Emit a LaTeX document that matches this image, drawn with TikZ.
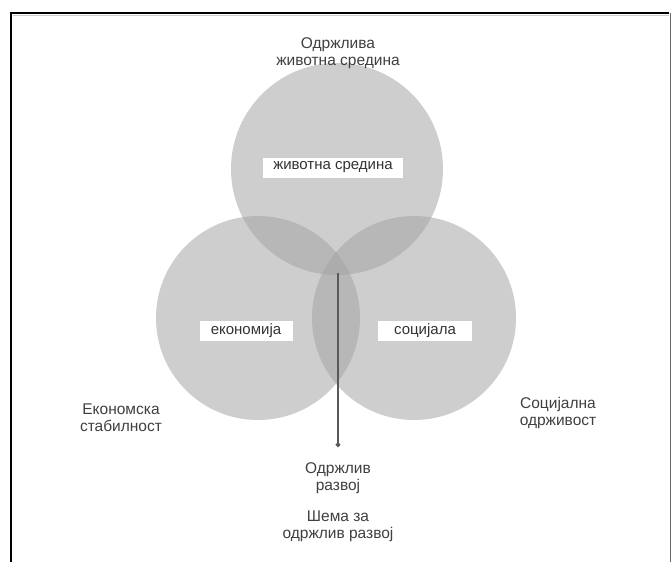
\documentclass[tikz,border=0pt]{standalone}
\usepackage{fontspec}
\setmainfont{Liberation Sans}
\usetikzlibrary{arrows.meta}
\begin{document}
\begin{tikzpicture}[x=1pt,y=-1pt,
  circ/.style={circle,fill=black!36,fill opacity=0.53,draw=none,inner sep=0pt},
  tag/.style={fill=white,inner sep=0pt,minimum height=20pt,text=black!80,font=\fontsize{15}{17}\selectfont},
  outer/.style={align=center,text=black!75,font=\fontsize{15.5}{17}\selectfont,inner sep=0pt},
  frameline/.style={line width=2.5pt,black}]
\useasboundingbox (0,0) rectangle (671,562);
\fill[white] (0,0) rectangle (671,562);
% frame
\draw[frameline] (11,562) -- (11,13) -- (669,13);
\draw[black!20,line width=0.8pt] (12.5,15.2) -- (669,15.2);
\draw[black!60,line width=1pt] (670,13) -- (670,562);
% circles
\node[circ,minimum size=212pt] (env) at (337,169) {};
\node[circ,minimum size=204pt] (eco) at (258,318) {};
\node[circ,minimum size=204pt] (soc) at (414,318) {};
% inner labels
\node[tag,minimum width=140pt] (envl) at (333,167.5) {животна средина};
\node[tag,minimum width=93pt] (ecol) at (246,331) {економија};
\node[tag,minimum width=94pt] (socl) at (425,331) {социјала};
% outer labels
\node[outer] (envo) at (338,53) {Одржлива\\животна средина};
\node[outer] (ecoo) at (121,418) {Економска\\стабилност};
\node[outer] (soco) at (558,413) {Социјална\\одрживост};
\node[outer] (dev) at (338,478) {Одржлив\\развој};
\node[outer] (cap) at (338,526) {Шема за\\одржлив развој};
% connector
\coordinate (c) at (338,273);
\coordinate (d) at (338,447);
\draw[black!65,line width=1.3pt,-{Circle[length=4.5pt]}] (c) -- (d);
\end{tikzpicture}
\end{document}
